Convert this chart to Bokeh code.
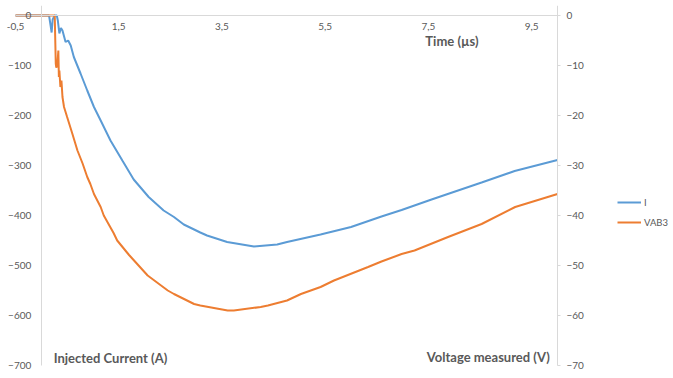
from bokeh.plotting import figure
from bokeh.models import Range1d, LinearAxis, FixedTicker, Legend, LegendItem, Label
from bokeh.embed import file_html
from bokeh.resources import INLINE

# ---- data ----
time_i = [-0.5, 0.15, 0.18, 0.2, 0.22, 0.26, 0.3, 0.32, 0.35, 0.38, 0.41, 0.47, 0.52, 0.57,
          0.63, 0.76, 0.89, 1.02, 1.15, 1.34, 1.57, 1.79, 2.08, 2.37, 2.57, 2.76, 3.08,
          3.21, 3.60, 4.12, 4.57, 4.76, 5.41, 6.0, 6.59, 6.98, 7.56, 8.53, 9.17, 10.0]
current_i = [0, 0, -20, -34, -8, 0, 0, -10, -36, -25, -30, -53, -50, -60,
             -83, -116, -150, -183, -210, -250, -290, -328, -363, -390, -403, -418, -434,
             -440, -453, -462, -458, -453, -438, -423, -402, -389, -368, -334, -311, -289]

time_v = [-0.5, 0.26, 0.28, 0.29, 0.31, 0.33, 0.34, 0.35, 0.37, 0.39, 0.41, 0.44, 0.50,
          0.60, 0.70, 0.80, 0.89, 0.95, 1.02, 1.15, 1.21, 1.40, 1.47, 1.70, 2.06, 2.45,
          2.57, 2.96, 3.08, 3.61, 3.73, 4.25, 4.39, 4.76, 5.03, 5.41, 5.67, 6.33, 6.59,
          6.98, 7.23, 7.88, 8.53, 9.18, 10.0]
voltage_v = [0, 0, -9.6, -10.4, -10, -7, -12.3, -11, -14.3, -13, -16.3, -18.3, -20.3,
             -23.6, -27, -29.6, -32.3, -33.7, -35.7, -38.3, -40, -43.5, -45, -47.9, -52, -55,
             -55.7, -57.7, -58, -59, -59, -58.3, -58, -57, -55.7, -54.3, -53, -50.3, -49.2,
             -47.7, -47, -44.3, -41.7, -38.3, -35.7]

x_ticks = [-0.5, 1.5, 3.5, 5.5, 7.5, 9.5]
x_tick_labels = ["-0,5", "1,5", "3,5", "5,5", "7,5", "9,5"]
left_ticks = [0, -100, -200, -300, -400, -500, -600, -700]
right_ticks = [0, -10, -20, -30, -40, -50, -60, -70]

series_names = ["I", "VAB3"]
axis_titles = ["Time (\u00b5s)", "Injected Current (A)", "Voltage measured (V)"]

BLUE = "#5B9BD5"
ORANGE = "#ED7D31"
GRAY_TXT = "#595959"
AXIS_LINE = "#D9D9D9"
FONT = "Lato"

# frame covers the whole canvas; axes are drawn at fixed data locations
PX_PER_X = 542 / 10.5
p = figure(frame_width=670, frame_height=370,
           x_range=Range1d(-0.5 - 12 / PX_PER_X, 10 + 116 / PX_PER_X),
           y_range=Range1d(-720, 20),
           output_backend="svg", toolbar_location=None,
           min_border_left=3, min_border_right=0, min_border_top=5, min_border_bottom=3,
           background_fill_color="white", border_fill_color="white")
p.outline_line_color = None
p.grid.visible = False
p.extra_y_ranges = {"v": Range1d(-72, 2)}

def style(ax):
    ax.major_tick_in = 0
    ax.minor_tick_out = 0
    ax.minor_tick_in = 0
    ax.axis_line_color = AXIS_LINE
    ax.major_tick_line_color = AXIS_LINE
    ax.major_label_text_color = GRAY_TXT
    ax.major_label_text_font = FONT
    ax.major_label_text_font_size = "10px"

# x axis crossing at y = 0
xa = p.xaxis[0]
style(xa)
xa.fixed_location = 0
xa.bounds = (-0.5, 10)
xa.ticker = FixedTicker(ticks=x_ticks)
xa.major_label_overrides = {t: s for t, s in zip(x_ticks, x_tick_labels)}
xa.major_tick_out = 0
xa.major_label_standoff = 7

# left axis crossing at x = 0
ya = p.yaxis[0]
style(ya)
ya.fixed_location = 0
ya.bounds = (-700, 20)
ya.ticker = FixedTicker(ticks=left_ticks)
ya.major_tick_out = 0
ya.major_label_standoff = 10

# right axis at x = 10
ra = LinearAxis(y_range_name="v", ticker=FixedTicker(ticks=right_ticks))
style(ra)
ra.fixed_location = 10
ra.bounds = (-70, 2)
ra.major_tick_out = 3
ra.major_label_standoff = 6
p.add_layout(ra, "right")

r_i = p.line(time_i, current_i, line_color=BLUE, line_width=2)
r_v = p.line(time_v, voltage_v, line_color=ORANGE, line_width=2, y_range_name="v")

legend = Legend(items=[LegendItem(label=series_names[0], renderers=[r_i]),
                       LegendItem(label=series_names[1], renderers=[r_v])],
                location=(614, 143), orientation="vertical",
                border_line_color=None, background_fill_alpha=0,
                padding=5, spacing=0, margin=0,
                glyph_width=24, glyph_height=20, label_height=20, label_standoff=3,
                label_text_font=FONT, label_text_font_size="9.5px",
                label_text_color=GRAY_TXT)
p.add_layout(legend, "center")

title_kw = dict(text_font=FONT, text_font_size="13px", text_font_style="bold",
                text_color=GRAY_TXT, text_baseline="middle")
p.add_layout(Label(x=7.44, y=-50, text=axis_titles[0], text_align="left", **title_kw))
p.add_layout(Label(x=0.24, y=-684, text=axis_titles[1], text_align="left", **title_kw))
p.add_layout(Label(x=9.85, y=-682, text=axis_titles[2], text_align="right", **title_kw))

open("out.html", "w").write(file_html(p, INLINE))
